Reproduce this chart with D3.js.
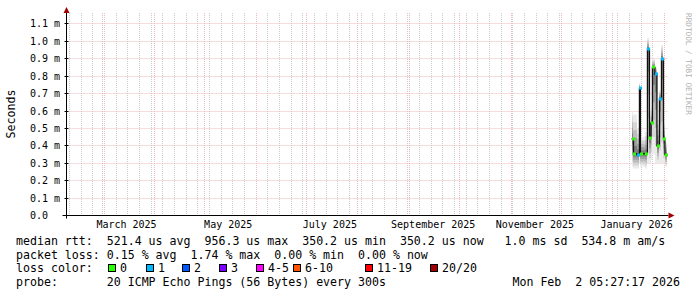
<!DOCTYPE html>
<html>
<head>
<meta charset="utf-8">
<script src="https://cdn.jsdelivr.net/npm/d3@7/dist/d3.min.js"></script>
<style>
  html, body { margin: 0; padding: 0; background: #ffffff; }
  svg { display: block; font-family: "DejaVu Sans Mono", monospace; }
</style>
</head>
<body>
<svg id="chart" width="697" height="297"></svg>
<script>
// samples (probe local time)
const sampleTimes = [
  "2026-01-12T06:00", "2026-01-13T10:00", "2026-01-15T12:00", "2026-01-17T00:00",
  "2026-01-17T14:00", "2026-01-20T14:00", "2026-01-21T19:00", "2026-01-23T00:00",
  "2026-01-23T22:00", "2026-01-24T19:00", "2026-01-26T07:00", "2026-01-27T12:00",
  "2026-01-29T00:00", "2026-01-30T05:00", "2026-01-31T10:00", "2026-02-01T07:00"
];
const medianMs   = [0.44, 0.355, 0.35, 0.73, 0.355, 0.355, 0.955, 0.445, 0.53, 0.85, 0.81, 0.40, 0.67, 0.90, 0.44, 0.35];
const lossCount  = [0, 0, 1, 1, 0, 0, 1, 0, 0, 0, 1, 0, 1, 1, 0, 0];
const smokeLowMs  = [0.28, 0.27, 0.27, 0.30, 0.28, 0.27, 0.30, 0.30, 0.32, 0.35, 0.30, 0.30, 0.30, 0.30, 0.30, 0.28];
const smokeHighMs = [0.60, 0.58, 0.50, 0.76, 0.45, 0.48, 1.02, 0.60, 0.62, 0.90, 0.85, 0.55, 0.72, 0.98, 0.55, 0.42];

const graphEnd = "2026-02-02T05:27:17";
const graphDays = 360;
const yMaxMs = 1.163;
const yTicks = [0, 0.1, 0.2, 0.3, 0.4, 0.5, 0.6, 0.7, 0.8, 0.9, 1.0, 1.1];

const lossLabels = ["0", "1", "2", "3", "4-5", "6-10", "11-19", "20/20"];
const lossColors = ["#26ff00", "#00b8ff", "#0059ff", "#7e00ff", "#ff00ff", "#ff5500", "#ff0000", "#a10000"];

const rttStats  = ["521.4 us avg", "956.3 us max", "350.2 us min", "350.2 us now", " 1.0 ms sd", "534.8 m am/s"];
const lossStats = ["0.15 % avg", "1.74 % max", "0.00 % min", "0.00 % now"];
const probeText = "20 ICMP Echo Pings (56 Bytes) every 300s";
const stampText = "Mon Feb  2 05:27:17 2026";

const parse = d3.utcParse("%Y-%m-%dT%H:%M");
const endT = d3.utcParse("%Y-%m-%dT%H:%M:%S")(graphEnd);
const startT = d3.utcDay.offset(endT, -graphDays);

const svg = d3.select("#chart");
const plotLeft = 66.5, plotRight = 666.5, plotTop = 13, plotBottom = 215.5;

const x = d3.scaleUtc().domain([startT, endT]).range([plotLeft, plotRight]);
const y = d3.scaleLinear().domain([0, yMaxMs]).range([plotBottom, plotTop]);
const px = v => Math.floor(v) + 0.5;
// keep runs of spaces like rrdtool does
const keep = s => s.replace(/ /g, "\u00a0");

const MGRID = "#eebcbc", GRID = "#cdcdcd", ARROW = "#a00000";

// minor grid: weekly
const g = svg.append("g");
d3.utcSunday.range(startT, endT).forEach(d => {
  g.append("line")
    .attr("x1", px(x(d))).attr("x2", px(x(d)))
    .attr("y1", plotTop).attr("y2", plotBottom)
    .attr("stroke", GRID).attr("stroke-dasharray", "1,1");
});
// major grid: months
d3.utcMonth.range(d3.utcMonth.ceil(startT), endT).forEach(d => {
  g.append("line")
    .attr("x1", px(x(d))).attr("x2", px(x(d)))
    .attr("y1", plotTop).attr("y2", plotBottom)
    .attr("stroke", MGRID).attr("stroke-dasharray", "1,1");
});
yTicks.filter(v => v > 0).forEach(v => {
  g.append("line")
    .attr("x1", plotLeft).attr("x2", plotRight + 2)
    .attr("y1", px(y(v))).attr("y2", px(y(v)))
    .attr("stroke", MGRID).attr("stroke-dasharray", "1,1");
});

// samples
const samples = sampleTimes.map((t, i) => ({
  t: parse(t), med: medianMs[i], loss: lossCount[i],
  lo: smokeLowMs[i], hi: smokeHighMs[i]
}));
samples.forEach((s, i) => {
  s.t1 = i < samples.length - 1 ? samples[i + 1].t : endT;
});

const lossIndex = n => n <= 3 ? n : n <= 5 ? 4 : n <= 10 ? 5 : n < 20 ? 6 : 7;

// smoke
const smoke = svg.append("g");
const shades = ["#ebebeb", "#d6d6d6", "#bdbdbd", "#a0a0a0", "#7e7e7e"];
samples.forEach(s => {
  const x0 = Math.round(x(s.t)), x1 = Math.max(x0 + 1, Math.round(x(s.t1)));
  shades.forEach((c, k) => {
    const f = k / shades.length;
    const lo = s.lo + (s.med - s.lo) * f;
    const hi = s.hi + (s.med - s.hi) * f;
    smoke.append("rect")
      .attr("x", x0).attr("width", x1 - x0)
      .attr("y", y(hi)).attr("height", Math.max(0, y(lo) - y(hi)))
      .attr("fill", c);
  });
});

// median line
const pts = samples.map(s => [x(s.t), y(s.med)]);
pts.push([x(endT), y(samples[samples.length - 1].med)]);
svg.append("path")
  .attr("d", d3.line().curve(d3.curveStepAfter)(pts))
  .attr("fill", "none")
  .attr("stroke", "#111111")
  .attr("stroke-width", 1.3);

// loss colored median markers
samples.forEach(s => {
  svg.append("rect")
    .attr("x", Math.round(x(s.t))).attr("width", 3)
    .attr("y", Math.round(y(s.med)) - 1.5).attr("height", 3)
    .attr("fill", lossColors[lossIndex(s.loss)]);
});

// axes
svg.append("line")
  .attr("x1", plotLeft).attr("x2", plotLeft)
  .attr("y1", plotBottom + 3).attr("y2", plotTop - 2)
  .attr("stroke", "#000");
svg.append("line")
  .attr("x1", plotLeft - 4).attr("x2", plotRight + 2)
  .attr("y1", plotBottom).attr("y2", plotBottom)
  .attr("stroke", "#000");
svg.append("path")
  .attr("d", `M${plotLeft},7 L${plotLeft - 3},13 L${plotLeft + 3},13 Z`)
  .attr("fill", ARROW);
svg.append("path")
  .attr("d", `M${plotRight + 8},${plotBottom} L${plotRight + 2},${plotBottom - 3} L${plotRight + 2},${plotBottom + 3} Z`)
  .attr("fill", ARROW);

// y ticks + labels
yTicks.forEach(v => {
  svg.append("line")
    .attr("x1", plotLeft - 2).attr("x2", plotLeft + 2)
    .attr("y1", px(y(v))).attr("y2", px(y(v)))
    .attr("stroke", "#000");
  svg.append("text")
    .attr("x", 30).attr("y", y(v) + 3.5)
    .attr("font-size", 10)
    .text(keep(v === 0 ? "0.0" : v.toFixed(1) + " m"));
});

// x labels every 2 months
const fmt = d3.utcFormat("%B %Y");
d3.utcMonth.every(2).range(startT, endT).forEach(d => {
  const mid = d3.utcHour.offset(d3.utcDay.offset(d, 14), 6);
  svg.append("text")
    .attr("x", x(mid)).attr("y", 228)
    .attr("text-anchor", "middle")
    .attr("font-size", 10)
    .text(keep(fmt(d)));
});

// y title
svg.append("text")
  .attr("transform", `translate(15,114) rotate(-90)`)
  .attr("text-anchor", "middle")
  .attr("font-size", 11.6)
  .text("Seconds");

// watermark
svg.append("text")
  .attr("transform", `translate(685.5,13) rotate(90)`)
  .attr("font-size", 7.7)
  .attr("fill", "#b0b0b0")
  .text(keep("RRDTOOL / TOBI OETIKER"));

// legend
const legend = svg.append("g").attr("font-size", 11.6);
const cw = 7.02, lx = 16;
legend.append("text").attr("x", lx).attr("y", 245)
  .text(keep("median rtt:  " + rttStats.join("  ")));
legend.append("text").attr("x", lx).attr("y", 258.7)
  .text(keep("packet loss: " + lossStats.join("  ")));
legend.append("text").attr("x", lx).attr("y", 272.4).text(keep("loss color:"));
const legendCols = [13.1, 18.5, 23.7, 28.9, 34.2, 39.4, 49.7, 59.0];
lossLabels.forEach((l, i) => {
  const bx = Math.round(lx + legendCols[i] * cw);
  legend.append("rect")
    .attr("x", bx + 0.5).attr("y", 264.5).attr("width", 7).attr("height", 7)
    .attr("fill", lossColors[i]).attr("stroke", "#000");
  legend.append("text").attr("x", bx + 12).attr("y", 272.4).text(l);
});
legend.append("text").attr("x", lx).attr("y", 286.1).text(keep("probe:       " + probeText));
legend.append("text").attr("x", 680).attr("y", 286.1).attr("text-anchor", "end").text(keep(stampText));
</script>
</body>
</html>
